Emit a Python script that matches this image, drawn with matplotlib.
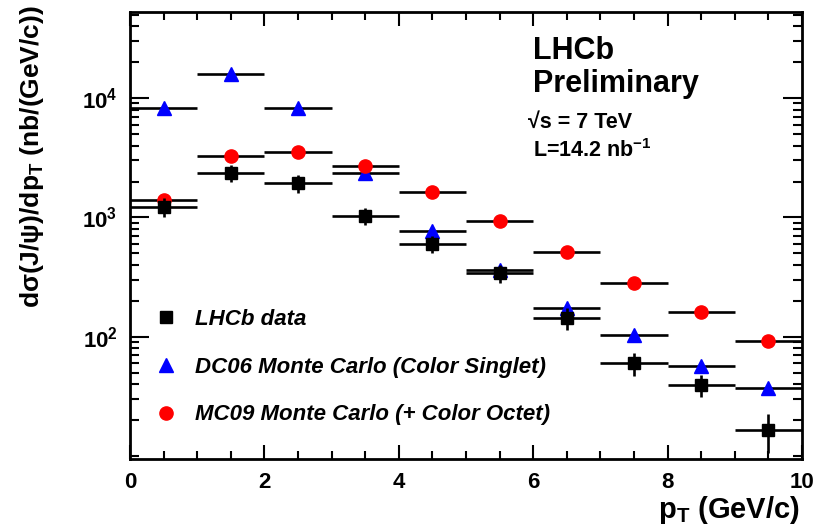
import numpy as np
import matplotlib
matplotlib.use("Agg")
import matplotlib.pyplot as plt
from matplotlib.lines import Line2D
from matplotlib.ticker import LogLocator, FixedLocator, NullFormatter, FuncFormatter

plt.rcParams['font.family'] = ['Liberation Sans', 'DejaVu Sans']
plt.rcParams['mathtext.fontset'] = 'custom'
plt.rcParams['mathtext.rm'] = 'Liberation Sans'
plt.rcParams['mathtext.bf'] = 'Liberation Sans:bold'
plt.rcParams['mathtext.it'] = 'Liberation Sans:italic'

# bin centres (GeV/c), bins are 1 GeV/c wide
pt = [0.5, 1.5, 2.5, 3.5, 4.5, 5.5, 6.5, 7.5, 8.5, 9.5]
pt_halfwidth = 0.5

# LHCb data
data = [1225, 2360, 1945, 1030, 600, 343, 144, 60.5, 39.6, 16.7]
data_err = [220, 380, 330, 165, 100, 60, 30, 13, 8, 6]

# DC06 Monte Carlo (Color Singlet)
dc06 = [8240, 15900, 8240, 2360, 770, 363, 175, 104, 57, 37.4]

# MC09 Monte Carlo (+ Color Octet)
mc09 = [1400, 3270, 3535, 2700, 1635, 935, 514, 283, 162, 92.6]

labels = ["LHCb data", "DC06 Monte Carlo (Color Singlet)", "MC09 Monte Carlo (+ Color Octet)"]
ylabels_at = [1e2, 1e3, 1e4]

W, H = 816, 527
fig = plt.figure(figsize=(W / 100, H / 100), dpi=100)
ax = fig.add_axes([130 / W, (H - 459) / H, (802 - 130) / W, (459 - 12) / H])

lw = 1.9
ax.errorbar(pt, dc06, xerr=pt_halfwidth, fmt='^', color='blue', ecolor='black',
            elinewidth=lw, markersize=9.5, capsize=0, zorder=3)
ax.errorbar(pt, mc09, xerr=pt_halfwidth, fmt='o', color='red', ecolor='black',
            elinewidth=lw, markersize=9.5, capsize=0, zorder=3)
ax.errorbar(pt, data, xerr=pt_halfwidth, yerr=data_err, fmt='s', color='black',
            ecolor='black', elinewidth=lw, markersize=8.5, capsize=0, zorder=4)

ax.set_yscale('log')
ax.set_xlim(0, 10)
ax.set_ylim(9.5, 52500)

ax.xaxis.set_major_locator(FixedLocator([0, 2, 4, 6, 8, 10]))
ax.xaxis.set_minor_locator(FixedLocator(np.arange(0, 10.01, 0.5)))
ax.yaxis.set_major_locator(FixedLocator(ylabels_at))
ax.yaxis.set_minor_locator(LogLocator(base=10, subs=np.arange(1, 10), numticks=20))
ax.yaxis.set_minor_formatter(NullFormatter())
ax.yaxis.set_major_formatter(FuncFormatter(
    lambda v, p: r'$\mathbf{10^{%d}}$' % int(round(np.log10(v)))))
ax.xaxis.set_major_formatter(FuncFormatter(lambda v, p: '%d' % v))

for s in ax.spines.values():
    s.set_linewidth(2)
ax.tick_params(axis='both', which='both', direction='in', top=True, right=True, width=1.5)
ax.tick_params(axis='x', which='major', length=10, pad=9, labelsize=16)
ax.tick_params(axis='x', which='minor', length=5.5)
ax.tick_params(axis='y', which='major', length=14, pad=9, labelsize=16)
ax.tick_params(axis='y', which='minor', length=6.5)
for lab in ax.get_xticklabels():
    lab.set_fontweight('bold')

fig.text(800 / W, 1 / H, r'$\mathbf{p_T}$ (GeV/c)', ha='right', va='bottom',
         fontsize=21, fontweight='bold')
fig.text(32 / W, 1 - 5 / H, r'dσ(J/ψ)/d$\mathbf{p_T}$ (nb/(GeV/c))', rotation=90,
         ha='center', va='top', fontsize=19, fontweight='bold')

fig.text(533 / W, 1 - 59 / H, 'LHCb', fontsize=22, fontweight='bold', va='baseline')
fig.text(533 / W, 1 - 92 / H, 'Preliminary', fontsize=22, fontweight='bold', va='baseline')
fig.text(528 / W, 1 - 128 / H, '√s = 7 TeV', fontsize=15.5, fontweight='bold', va='baseline')
fig.text(533 / W, 1 - 157 / H, r'L=14.2 nb$^{\mathbf{-1}}$', fontsize=15.5, fontweight='bold',
         va='baseline')

handles = [
    Line2D([], [], marker='s', color='black', linestyle='none', markersize=8.5),
    Line2D([], [], marker='^', color='blue', linestyle='none', markersize=9.5),
    Line2D([], [], marker='o', color='red', linestyle='none', markersize=9.5),
]
leg = ax.legend(handles, labels, loc='upper left', bbox_to_anchor=(142 / W, 1 - 298 / H),
                bbox_transform=fig.transFigure, frameon=False,
                prop={'size': 16, 'weight': 'bold', 'style': 'italic'},
                labelspacing=1.2, handletextpad=0.7, handlelength=1.2, borderpad=0)

fig.savefig('out.png', dpi=100)
